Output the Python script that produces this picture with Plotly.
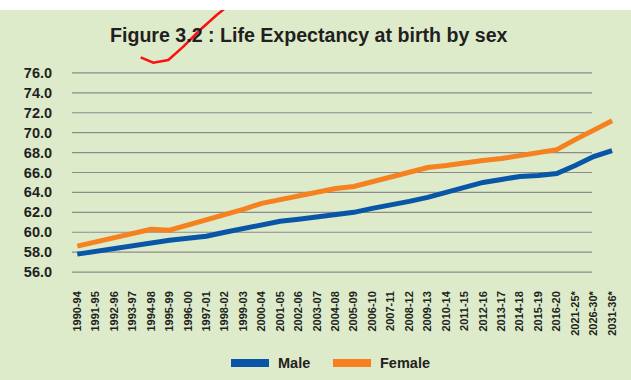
import plotly.graph_objects as go

# ---------------- data ----------------
periods = ["1990-94", "1991-95", "1992-96", "1993-97", "1994-98", "1995-99", "1996-00",
           "1997-01", "1998-02", "1999-03", "2000-04", "2001-05", "2002-06", "2003-07",
           "2004-08", "2005-09", "2006-10", "2007-11", "2008-12", "2009-13", "2010-14",
           "2011-15", "2012-16", "2013-17", "2014-18", "2015-19", "2016-20", "2021-25*",
           "2026-30*", "2031-36*"]
male = [57.8, 58.1, 58.4, 58.6, 58.9, 59.2, 59.4, 59.6, 60.0, 60.4, 60.8, 61.1, 61.3, 61.5,
        61.8, 62.0, 62.4, 62.7, 63.1, 63.5, 64.0, 64.5, 65.0, 65.3, 65.6, 65.7, 65.9, 66.7,
        67.6, 68.2]
female = [58.6, 59.0, 59.5, 59.8, 60.3, 60.2, 60.7, 61.2, 61.7, 62.3, 62.9, 63.3, 63.7, 64.1,
          64.4, 64.6, 65.1, 65.6, 66.1, 66.5, 66.7, 67.0, 67.2, 67.4, 67.7, 68.0, 68.3, 69.3,
          70.3, 71.2]
series_names = ["Male", "Female"]
y_ticks = [56, 58, 60, 62, 64, 66, 68, 70, 72, 74, 76]
title_text = "Figure 3.2 : Life Expectancy at birth by sex"

# ---------------- layout geometry ----------------
TOP_STRIP = 10                     # white band above the green panel
W, H = 631, 380 - TOP_STRIP
ML, MR, MT, MB = 72, 11, 63 - TOP_STRIP, 98
PW, PH = W - ML - MR, H - MT - MB

def px(x):
    return (x - ML) / PW

def py(y):
    return ((H - MB) - (y - TOP_STRIP)) / PH

BG = "#DDEBCB"
BLUE = "#0A56A6"
ORANGE = "#F5821F"
TXT = "#231F20"
FONT = "Liberation Sans, Arial, sans-serif"

fig = go.Figure()
fig.add_trace(go.Scatter(x=periods, y=male, name=series_names[0], mode="lines",
                         line=dict(color=BLUE, width=5), showlegend=False))
fig.add_trace(go.Scatter(x=periods, y=female, name=series_names[1], mode="lines",
                         line=dict(color=ORANGE, width=5), showlegend=False))

shapes = []
# gridlines (shortened, as in reference)
for v in y_ticks:
    shapes.append(dict(type="line", xref="paper", yref="y", x0=px(72), x1=px(592), y0=v, y1=v,
                       line=dict(color="#8C8C8C", width=1.2), layer="below"))
# legend swatches
shapes.append(dict(type="rect", xref="paper", yref="paper", x0=px(231), x1=px(269),
                   y0=py(367), y1=py(359), fillcolor=BLUE, line=dict(width=0)))
shapes.append(dict(type="rect", xref="paper", yref="paper", x0=px(333), x1=px(371),
                   y0=py(367), y1=py(359), fillcolor=ORANGE, line=dict(width=0)))
# red hand-drawn check mark
pts = [(140.7, 57.3), (153.3, 62.7), (168.3, 60.0), (183.3, 46.7), (200.0, 30.0),
       (216.7, 15.0), (236.7, -1.0)]
path = "M " + " L ".join(f"{px(a):.5f},{py(b):.5f}" for a, b in pts)
shapes.append(dict(type="path", xref="paper", yref="paper", path=path,
                   line=dict(color="#FF1010", width=2.5)))

annotations = [
    dict(text="<b>" + title_text + "</b>", xref="paper", yref="paper", x=px(309), y=py(35),
         xanchor="center", yanchor="middle", showarrow=False,
         font=dict(family=FONT, size=19.6, color=TXT)),
    dict(text="<b>" + series_names[0] + "</b>", xref="paper", yref="paper", x=px(276), y=py(363),
         xanchor="left", yanchor="middle", showarrow=False,
         font=dict(family=FONT, size=14.5, color=TXT)),
    dict(text="<b>" + series_names[1] + "</b>", xref="paper", yref="paper", x=px(378), y=py(363),
         xanchor="left", yanchor="middle", showarrow=False,
         font=dict(family=FONT, size=14.5, color=TXT)),
]

fig.update_layout(
    width=W, height=H,
    margin=dict(l=ML, r=MR, t=MT, b=MB, pad=0),
    paper_bgcolor=BG, plot_bgcolor=BG,
    shapes=shapes, annotations=annotations,
    showlegend=False,
    xaxis=dict(type="category", range=[-0.287, 29.43], showgrid=False, zeroline=False,
               showline=False, ticks="", tickangle=-90, ticklabelstandoff=6, automargin=False,
               tickfont=dict(family=FONT, size=11, color=TXT, weight="bold")),
    yaxis=dict(range=[55, 77], tickvals=y_ticks, ticktext=[f"{v:.1f}" for v in y_ticks],
               showgrid=False, zeroline=False, showline=False, ticks="outside", ticklen=16,
               tickcolor="rgba(0,0,0,0)", automargin=False,
               tickfont=dict(family=FONT, size=14.5, color=TXT, weight="bold")),
)

post = ("document.body.style.margin='%dpx 0 0 0';"
        "document.body.style.background='white';"
        "document.body.style.overflow='hidden';"
        "document.querySelectorAll('svg.main-svg').forEach(function(s){s.style.overflow='visible';});"
        % TOP_STRIP)
fig.write_html("out.html", config={"displayModeBar": False}, post_script=post)
